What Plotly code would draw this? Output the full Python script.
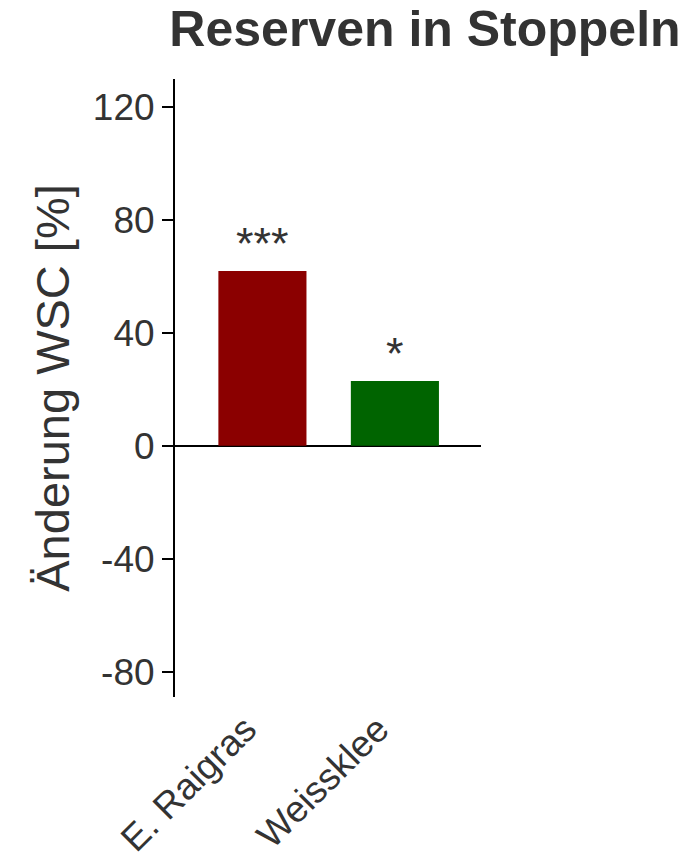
import plotly.graph_objects as go

# Change in water-soluble carbohydrate reserves in stubble, per species
species = ["E. Raigras", "Weissklee"]
change_pct = [62, 23]
significance = ["***", "*"]
bar_colors = ["#8B0000", "#006400"]
y_ticks = [-80, -40, 0, 40, 80, 120]
y_tick_text = ["-80", "-40", "0", "40", "80", "120"]

FONT = "Liberation Sans, Arial, sans-serif"
TEXT = "#333333"

fig = go.Figure(
    go.Bar(
        x=species,
        y=change_pct,
        marker=dict(color=bar_colors, line=dict(width=0)),
        width=0.665,
        showlegend=False,
    )
)

for name, val, sig in zip(species, change_pct, significance):
    fig.add_annotation(
        x=name, y=val, text=sig, showarrow=False,
        yanchor="bottom", yshift=0,
        font=dict(family=FONT, size=45, color=TEXT),
    )

fig.update_layout(
    width=697, height=854,
    margin=dict(l=175, r=216, t=79, b=157, autoexpand=False),
    paper_bgcolor="white", plot_bgcolor="white",
    title=dict(
        text="<b>Reserven in Stoppeln</b>",
        font=dict(family=FONT, size=50, color=TEXT),
        xref="container", x=0.243, xanchor="left",
        yref="container", y=0.987, yanchor="top",
    ),
)

fig.update_xaxes(
    range=[-0.66, 1.65],
    automargin=False,
    showline=False, showgrid=False, zeroline=False, ticks="",
    tickangle=-45,
    ticklabelshift=-17,
    ticklabelstandoff=2,
    tickfont=dict(family=FONT, size=37, color=TEXT),
)

fig.update_yaxes(
    range=[-89, 130],
    automargin=False,
    tickvals=y_ticks, ticktext=y_tick_text,
    showgrid=False,
    showline=True, linecolor="black", linewidth=2,
    zeroline=True, zerolinecolor="black", zerolinewidth=2,
    ticks="outside", ticklen=11, tickwidth=2, tickcolor="black",
    tickfont=dict(family=FONT, size=37, color=TEXT),
    title=dict(text="Änderung WSC [%]", standoff=8,
               font=dict(family=FONT, size=47, color=TEXT)),
)

fig.write_html("out.html")
